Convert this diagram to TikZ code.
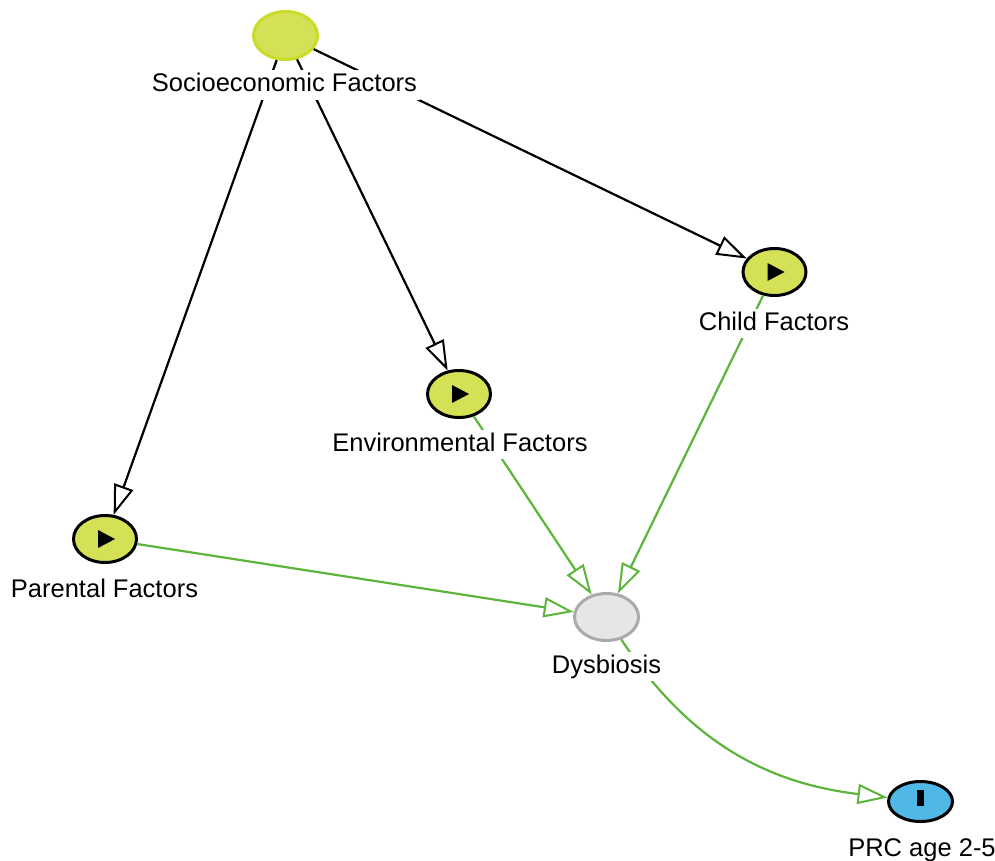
\documentclass[tikz,border=0pt]{standalone}
\usepackage{fontspec}
\setmainfont{Liberation Sans}
\usetikzlibrary{arrows.meta,shapes.geometric}
\definecolor{ygfill}{RGB}{212,225,87}
\definecolor{ygborder}{RGB}{200,220,40}
\definecolor{dysfill}{RGB}{230,230,230}
\definecolor{dysborder}{RGB}{170,170,170}
\definecolor{prcfill}{RGB}{79,184,230}
\definecolor{edgegreen}{RGB}{92,180,58}
\tikzset{
  var/.style={ellipse, draw=black, line width=3pt, fill=ygfill, inner sep=0pt,
    minimum width=63pt, minimum height=47pt},
  lab/.style={fill=white, inner sep=3pt, anchor=base, text height=18.5pt, text depth=5pt,
    font=\fontsize{25.5}{30}\selectfont},
  tip/.style={-{Triangle[open, length=30pt, width=20pt, line width=2pt]}},
  blackedge/.style={line width=2.2pt, draw=black, tip},
  greenedge/.style={line width=2.2pt, draw=edgegreen, tip},
  playicon/.style={fill=black}
}
\begin{document}
\begin{tikzpicture}[x=1pt, y=-1pt]
\useasboundingbox (0,0) rectangle (995,861);
% nodes
\node[var, draw=ygborder, minimum width=64pt, minimum height=48pt] (socio) at (285.5,35.5) {};
\node[var] (child) at (774.5,272) {};
\node[var] (env) at (459,394) {};
\node[var] (par) at (105,539) {};
\node[var, fill=dysfill, draw=dysborder, minimum width=64pt] (dys) at (606.5,617) {};
\node[var, fill=prcfill, minimum width=64pt, minimum height=40pt] (prc) at (920.5,801.5) {};
% icons
\foreach \n in {child,env,par}
  \fill[playicon] ([shift={(-7,-9)}]\n.center) -- ++(17,9) -- ++(-17,9) -- cycle;
\fill[black] ([shift={(-3.5,-11.5)}]prc.center) rectangle ([shift={(3.5,4.5)}]prc.center);
% edges
\draw[blackedge] (socio) -- (par);
\draw[blackedge] (socio) -- (env);
\draw[blackedge] (socio) -- (child);
\draw[greenedge] (env) -- (dys);
\draw[greenedge] (child) -- (dys);
\draw[greenedge] (par) -- (dys);
\draw[greenedge] (dys) .. controls (688,741) and (766,783) .. (prc);
% labels
\node[lab] (socioL) at (284.5,92) {Socioeconomic Factors};
\node[lab] (childL) at (774,330) {Child Factors};
\node[lab] (envL) at (460,451) {Environmental Factors};
\node[lab] (parL) at (104.5,597) {Parental Factors};
\node[lab] (dysL) at (606.5,673) {Dysbiosis};
\node[lab] (prcL) at (922,856) {PRC age 2-5};
\end{tikzpicture}
\end{document}
